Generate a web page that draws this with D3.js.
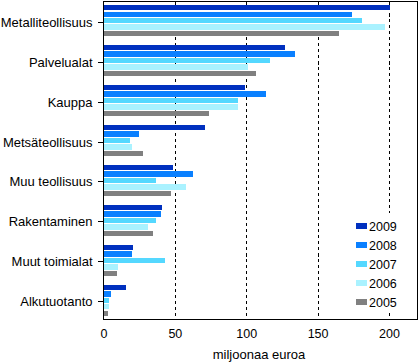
<!DOCTYPE html>
<html>
<head>
<meta charset="utf-8">
<script src="https://cdn.jsdelivr.net/npm/d3@7"></script>
<style>
  html, body { margin: 0; padding: 0; background: #fff; }
  svg { display: block; }
  text { font-family: "Liberation Sans", Arial, sans-serif; fill: #000; }
</style>
</head>
<body>
<svg id="chart" width="418" height="364"></svg>
<script>
const categories = ["Metalliteollisuus", "Palvelualat", "Kauppa", "Metsäteollisuus",
  "Muu teollisuus", "Rakentaminen", "Muut toimialat", "Alkutuotanto"];
const seriesNames = ["2009", "2008", "2007", "2006", "2005"];
const values2009 = [201, 127, 99, 71, 49, 41, 21, 16];
const values2008 = [174, 134, 114, 25, 63, 40, 20, 5];
const values2007 = [181, 117, 94, 18.5, 37, 37, 43, 3.7];
const values2006 = [197, 101, 94.5, 20, 58, 31, 10, 3.7];
const values2005 = [165, 107, 74, 27.5, 47, 34.5, 9.5, 3];
const seriesValues = [values2009, values2008, values2007, values2006, values2005];
const colors = ["#0030bf", "#0a80ff", "#55d8ff", "#aaf2ff", "#808080"];
const xTicks = [0, 50, 100, 150, 200];
const axisTitle = "miljoonaa euroa";

const svg = d3.select("#chart");
const pLeft = 103.5, pRight = 417.5, pTop = 1.5, pBottom = 319.5;

const x = d3.scaleLinear().domain([0, 220]).range([pLeft, pRight]);
const y = d3.scaleBand().domain(categories).range([pTop, pBottom]).paddingInner(0.22).paddingOuter(0.09);
const ySub = d3.scaleBand().domain(seriesNames).range([0, y.bandwidth()]).paddingInner(0.17);

// gridlines (dashed) behind bars
svg.append("g").selectAll("line").data(xTicks.filter(d => d > 0)).join("line")
  .attr("x1", d => Math.round(x(d)) + 0.5).attr("x2", d => Math.round(x(d)) + 0.5)
  .attr("y1", pTop).attr("y2", pBottom)
  .attr("stroke", "#000").attr("stroke-width", 1).attr("stroke-dasharray", "3,3")
  .attr("shape-rendering", "crispEdges");

// bars
const groups = svg.append("g").selectAll("g").data(categories).join("g")
  .attr("transform", d => `translate(0,${y(d)})`);
groups.selectAll("rect")
  .data((c, i) => seriesNames.map((s, j) => ({ s, j, v: seriesValues[j][i] })))
  .join("rect")
  .attr("x", x(0))
  .attr("y", d => ySub(d.s))
  .attr("width", d => x(d.v) - x(0))
  .attr("height", ySub.bandwidth())
  .attr("fill", d => colors[d.j])
  .attr("shape-rendering", "crispEdges");

// frame
svg.append("rect").attr("x", pLeft).attr("y", pTop).attr("width", pRight - pLeft).attr("height", pBottom - pTop)
  .attr("fill", "none").attr("stroke", "#000").attr("stroke-width", 1).attr("shape-rendering", "crispEdges");

// y axis
const yAxis = d3.axisLeft(y).tickSize(6).tickPadding(5);
const gy = svg.append("g").attr("transform", `translate(${pLeft},0)`).call(yAxis);
gy.select(".domain").remove();
gy.selectAll(".tick line").attr("stroke", "#000").attr("shape-rendering", "crispEdges");
gy.selectAll(".tick").attr("transform", d => `translate(0,${Math.round(y(d) + y.bandwidth() / 2 + 1) + 0.5})`);
gy.selectAll("text").style("font-size", "13px").style("font-family", "'Liberation Sans', Arial, sans-serif");

// x axis
const xAxis = d3.axisBottom(x).tickValues(xTicks).tickSize(0).tickPadding(10);
const gx = svg.append("g").attr("transform", `translate(0,${pBottom})`).call(xAxis);
gx.select(".domain").remove();
gx.selectAll("text").style("font-size", "12.5px").style("font-family", "'Liberation Sans', Arial, sans-serif");

// axis title
svg.append("text").attr("x", 259).attr("y", 359).attr("text-anchor", "middle")
  .style("font-size", "13px").text(axisTitle);

// legend
const lg = svg.append("g");
lg.append("rect").attr("x", 350).attr("y", 213).attr("width", 66).attr("height", 99).attr("fill", "#fff");
const items = lg.selectAll("g.item").data(seriesNames).join("g").attr("class", "item")
  .attr("transform", (d, i) => `translate(356,${226 + i * 19})`);
items.append("rect").attr("x", 0).attr("y", -3).attr("width", 11).attr("height", 6)
  .attr("fill", (d, i) => colors[i]).attr("shape-rendering", "crispEdges");
items.append("text").attr("x", 13).attr("y", 4.5).style("font-size", "12.5px").text(d => d);
</script>
</body>
</html>
